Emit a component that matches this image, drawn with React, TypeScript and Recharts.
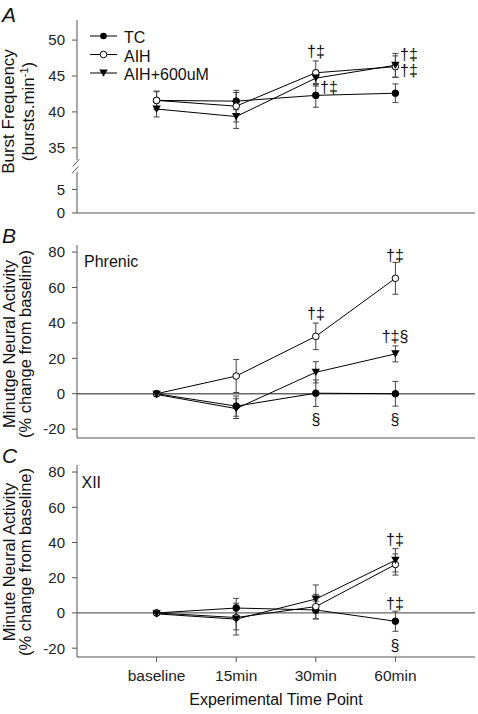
import {
  ComposedChart,
  Line,
  XAxis,
  YAxis,
  ErrorBar,
  ReferenceLine,
  Scatter,
  Legend
} from "recharts";

const FONT = '"Liberation Sans", Arial, Helvetica, sans-serif';
const AXIS = "#555";

const timePoints = ["baseline", "15min", "30min", "60min"];
const seriesNames = ["TC", "AIH", "AIH+600uM"];

// A: burst frequency (bursts/min)
const tcBurst = [41.6, 41.5, 42.3, 42.6];
const tcBurstErr = [1.2, 1.2, 1.65, 1.3];
const aihBurst = [41.6, 40.8, 45.45, 46.3];
const aihBurstErr = [1.3, 2.2, 1.65, 1.5];
const aih600Burst = [40.4, 39.35, 44.7, 46.5];
const aih600BurstErr = [1.1, 1.65, 1.1, 1.65];

// B: phrenic minute activity (% change from baseline)
const tcPhrenic = [0, -7, 0.3, 0];
const tcPhrenicErr = [0.8, 5.7, 7.5, 7];
const aihPhrenic = [0, 10, 32.4, 65.2];
const aihPhrenicErr = [1, 9.3, 7.5, 9];
const aih600Phrenic = [-0.4, -8.4, 12.1, 22.5];
const aih600PhrenicErr = [0.8, 5.6, 6, 4.5];

// C: XII minute activity (% change from baseline)
const tcXII = [0, 2.8, 1.7, -4.7];
const tcXIIErr = [0.5, 5.5, 5, 5.7];
const aihXII = [0, -2.6, 3.6, 27.5];
const aihXIIErr = [0.5, 7, 7, 6];
const aih600XII = [-0.5, -3.5, 7.9, 29.9];
const aih600XIIErr = [0.5, 9, 8, 6.6];

// significance marks (x = time point 1..4, y = axis value)
const marksA = [
  { x: 3, y: 48.5, text: "†‡" },
  { x: 3.16, y: 43.4, text: "†‡" },
  { x: 4.17, y: 48.1, text: "†‡" },
  { x: 4.17, y: 45.8, text: "†‡" }
];
const marksB = [
  { x: 3, y: 45.4, text: "†‡" },
  { x: 4, y: 78.3, text: "†‡" },
  { x: 4, y: 32.4, text: "†‡§" },
  { x: 3, y: -14.5, text: "§" },
  { x: 4, y: -14.5, text: "§" }
];
const marksC = [
  { x: 4, y: 41.8, text: "†‡" },
  { x: 4, y: 5.9, text: "†‡" },
  { x: 4, y: -18, text: "§" }
];

const buildRows = (
  tc: number[], tcErr: number[],
  aih: number[], aihErr: number[],
  a6: number[], a6Err: number[]
) =>
  timePoints.map((_, i) => ({
    x: i + 1,
    tc: tc[i], tcErr: tcErr[i],
    aih: aih[i], aihErr: aihErr[i],
    a6: a6[i], a6Err: a6Err[i]
  }));

const rowsA = buildRows(tcBurst, tcBurstErr, aihBurst, aihBurstErr, aih600Burst, aih600BurstErr);
const rowsB = buildRows(tcPhrenic, tcPhrenicErr, aihPhrenic, aihPhrenicErr, aih600Phrenic, aih600PhrenicErr);
const rowsC = buildRows(tcXII, tcXIIErr, aihXII, aihXIIErr, aih600XII, aih600XIIErr);

const triangle = (p: any) => {
  const { cx, cy, index } = p;
  if (cx == null || cy == null) return <g key={`t-${index}`} />;
  return (
    <path
      key={`t-${index}`}
      d={`M${cx - 4.2},${cy - 3.6} L${cx + 4.2},${cy - 3.6} L${cx},${cy + 3.8} Z`}
      fill="#000"
    />
  );
};

// dagger marks; rounded to whole pixels so the thin stems stay grey
const markText = (p: any) => (
  <text
    x={Math.round(p.cx)}
    y={Math.round(p.cy)}
    textAnchor="middle"
    dominantBaseline="central"
    fontSize={16}
    fontFamily={FONT}
    fill="#111"
  >
    {p.payload.text}
  </text>
);

const seriesLines = () => [
  <Line key="tc" type="linear" dataKey="tc" name="TC" stroke="#000" strokeWidth={1}
    dot={{ r: 3.3, fill: "#000", stroke: "#000", strokeWidth: 1 }} activeDot={false} isAnimationActive={false}>
    <ErrorBar dataKey="tcErr" direction="y" width={3} stroke="#444" strokeWidth={1} />
  </Line>,
  <Line key="aih" type="linear" dataKey="aih" name="AIH" stroke="#000" strokeWidth={1}
    dot={{ r: 3.3, fill: "#fff", stroke: "#000", strokeWidth: 1 }} activeDot={false} isAnimationActive={false}>
    <ErrorBar dataKey="aihErr" direction="y" width={3} stroke="#444" strokeWidth={1} />
  </Line>,
  <Line key="a6" type="linear" dataKey="a6" name="AIH+600uM" stroke="#000" strokeWidth={1}
    dot={triangle} activeDot={false} isAnimationActive={false}>
    <ErrorBar dataKey="a6Err" direction="y" width={3} stroke="#444" strokeWidth={1} />
  </Line>
];

const legendContent = () => (
  <svg width={130} height={60}>
    {seriesNames.map((name, i) => (
      <g key={name} transform={`translate(0, ${i * 18.5})`}>
        <line x1={2} x2={29} y1={11} y2={11} stroke="#000" strokeWidth={1} />
        {i === 0 && <circle cx={15.5} cy={11} r={3.3} fill="#000" />}
        {i === 1 && <circle cx={15.5} cy={11} r={3.3} fill="#fff" stroke="#000" />}
        {i === 2 && <path d="M11.3,7.4 L19.7,7.4 L15.5,14.8 Z" fill="#000" />}
        <text x={36} y={18.3} fontSize={16} fontFamily={FONT} fill="#111">{name}</text>
      </g>
    ))}
  </svg>
);

const yTick = { fill: "#222", fontSize: 15, fontFamily: FONT };
const xTick = { fill: "#222", fontSize: 15.5, fontFamily: FONT };

const xAxisFor = (mode: "hide" | "ticks" | "labels", h: number) =>
  mode === "hide" ? (
    <XAxis type="number" dataKey="x" domain={[0, 5]} hide />
  ) : (
    <XAxis
      type="number"
      dataKey="x"
      domain={[0, 5]}
      ticks={[1, 2, 3, 4]}
      interval={0}
      tickFormatter={(v: number) => timePoints[v - 1]}
      height={h}
      stroke={AXIS}
      tickSize={5}
      tickMargin={8}
      tick={mode === "labels" ? xTick : false}
    />
  );

const yAxisFor = (domain: number[], ticks: number[]) => (
  <YAxis type="number" domain={domain} ticks={ticks} interval={0} width={77}
    stroke={AXIS} tickSize={5} tickMargin={7} tick={yTick} allowDataOverflow />
);

export default function App() {
  const place = (top: number): React.CSSProperties => ({ position: "absolute", left: 0, top });
  return (
    <div style={{ position: "absolute", left: 0, top: 0, width: 478, height: 714, background: "#fff" }}>
      {/* A, upper part of the broken axis */}
      <div style={place(0)}>
        <ComposedChart width={478} height={165} data={rowsA} margin={{ top: 20, right: 3, bottom: 5, left: 0 }}>
          {xAxisFor("hide", 0)}
          {yAxisFor([33.3, 52.8], [35, 40, 45, 50])}
          {seriesLines()}
          <Scatter data={marksA} dataKey="y" shape={markText} legendType="none" isAnimationActive={false} />
          <Legend layout="horizontal" verticalAlign="middle" align="center"
            content={legendContent} wrapperStyle={{ left: 88, top: 25, width: 130 }} />
        </ComposedChart>
      </div>
      {/* A, lower part (0-5) */}
      <div style={place(165)}>
        <ComposedChart width={478} height={64} data={rowsA} margin={{ top: 7, right: 3, bottom: 0, left: 0 }}>
          {xAxisFor("ticks", 16)}
          {yAxisFor([0, 8.7], [0, 5])}
        </ComposedChart>
      </div>
      {/* B, phrenic */}
      <div style={place(230)}>
        <ComposedChart width={478} height={216} data={rowsB} margin={{ top: 15, right: 3, bottom: 0, left: 0 }}>
          {xAxisFor("ticks", 8)}
          {yAxisFor([-25, 84], [-20, 0, 20, 40, 60, 80])}
          <ReferenceLine y={0} stroke="#666" strokeWidth={1.3} />
          {seriesLines()}
          <Scatter data={marksB} dataKey="y" shape={markText} legendType="none" isAnimationActive={false} />
        </ComposedChart>
      </div>
      {/* C, XII */}
      <div style={place(450)}>
        <ComposedChart width={478} height={237} data={rowsC} margin={{ top: 15, right: 3, bottom: 0, left: 0 }}>
          {xAxisFor("labels", 30)}
          {yAxisFor([-25, 84], [-20, 0, 20, 40, 60, 80])}
          <ReferenceLine y={0} stroke="#666" strokeWidth={1.3} />
          {seriesLines()}
          <Scatter data={marksC} dataKey="y" shape={markText} legendType="none" isAnimationActive={false} />
        </ComposedChart>
      </div>

      {/* titles, panel letters, axis break */}
      <svg width={478} height={714} style={{ position: "absolute", left: 0, top: 0, pointerEvents: "none" }}
        fontFamily={FONT} fill="#111">
        <text x={2} y={22} fontSize={21} fontStyle="italic">A</text>
        <text x={2} y={243} fontSize={21} fontStyle="italic">B</text>
        <text x={2} y={463} fontSize={21} fontStyle="italic">C</text>

        <g fontSize={17} textAnchor="middle">
          <text x={14} y={111.5} transform="rotate(-90 14 111.5)">Burst Frequency</text>
          <text x={33.5} y={111.5} transform="rotate(-90 33.5 111.5)">
            (bursts.min<tspan fontSize={11} dy={-6}>-1</tspan><tspan dy={6}>)</tspan>
          </text>
        </g>
        <g fontSize={16.5} textAnchor="middle">
          <text x={15} y={344} transform="rotate(-90 15 344)">Minutge Neural Activity</text>
          <text x={30.5} y={344} transform="rotate(-90 30.5 344)">(% change from baseline)</text>
          <text x={15} y={562} transform="rotate(-90 15 562)">Minute Neural Activity</text>
          <text x={30.5} y={562} transform="rotate(-90 30.5 562)">(% change from baseline)</text>
        </g>

        <text x={84} y={266.5} fontSize={16}>Phrenic</text>
        <text x={81.5} y={488} fontSize={16}>XII</text>
        <text x={276} y={705} fontSize={16} textAnchor="middle">Experimental Time Point</text>

        <line x1={72.7} y1={166.7} x2={79.3} y2={159.3} stroke={AXIS} strokeWidth={1} />
        <line x1={72} y1={173.3} x2={78.3} y2={166.8} stroke={AXIS} strokeWidth={1} />
      </svg>
    </div>
  );
}
